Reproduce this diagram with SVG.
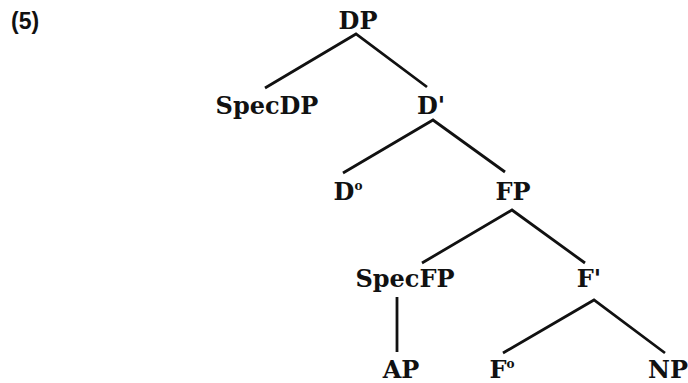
<svg xmlns="http://www.w3.org/2000/svg" width="688" height="383" viewBox="0 0 688 383">
  <style>
    .lbl { font-family: "DejaVu Serif", "Liberation Serif", serif; font-weight: bold; font-size: 24px; fill: #111; text-anchor: middle; }
    .num { font-family: "Liberation Sans", Arial, sans-serif; font-weight: bold; font-size: 23px; fill: #111; }
    .sup { font-size: 12px; }
    .edge { stroke: #111; stroke-width: 2.8; fill: none; stroke-linecap: butt; }
  </style>
  <rect width="688" height="383" fill="#fff"/>
  <text class="num" x="11" y="29">(5)</text>

  <!-- tree branches -->
  <g id="connectors">
    <polyline class="edge" points="265,88 356,34 427,87"/>
    <polyline class="edge" points="343,173 433,120 505,172"/>
    <polyline class="edge" points="422,263 512,210 585,263"/>
    <line class="edge" x1="397" y1="297" x2="397" y2="352"/>
    <polyline class="edge" points="503,353 594,300 665,353"/>
  </g>

  <g id="node-DP"><text class="lbl" x="358" y="29">DP</text></g>
  <g id="node-SpecDP"><text class="lbl" x="267" y="114">SpecDP</text></g>
  <g id="node-Dbar"><text class="lbl" x="431" y="114">D'</text></g>
  <g id="node-D0"><text class="lbl" x="348" y="200">D<tspan class="sup" dy="-10">o</tspan></text></g>
  <g id="node-FP"><text class="lbl" x="513" y="200">FP</text></g>
  <g id="node-SpecFP"><text class="lbl" x="405" y="287">SpecFP</text></g>
  <g id="node-Fbar"><text class="lbl" x="589" y="287">F'</text></g>
  <g id="node-AP"><text class="lbl" x="401" y="378">AP</text></g>
  <g id="node-F0"><text class="lbl" x="502" y="378">F<tspan class="sup" dy="-10">o</tspan></text></g>
  <g id="node-NP"><text class="lbl" x="668" y="378">NP</text></g>
</svg>
